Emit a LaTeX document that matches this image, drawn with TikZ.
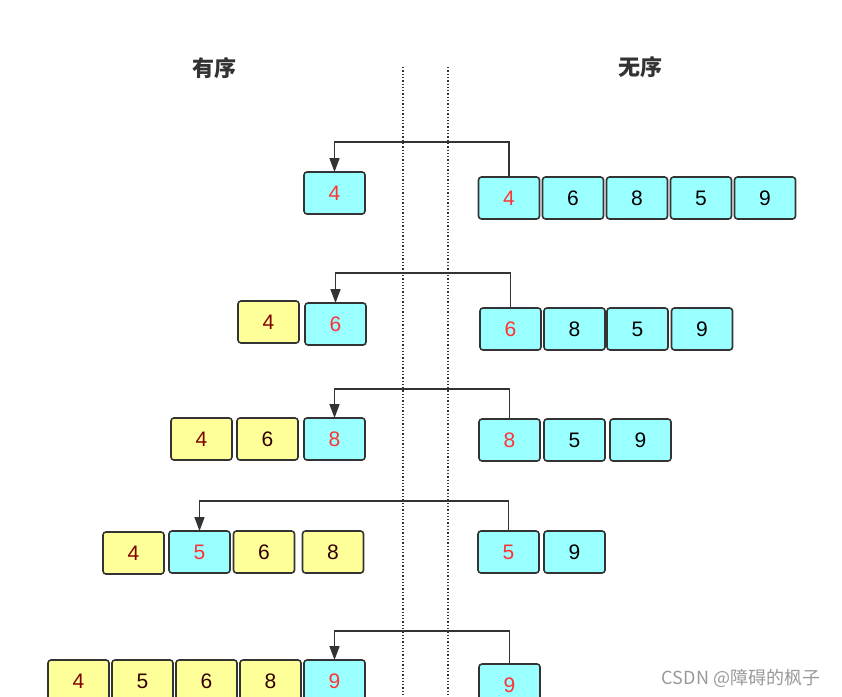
\documentclass[tikz,border=0pt]{standalone}
\usepackage{fontspec}
\setmainfont{Liberation Sans}
\newfontfamily\cjk{Noto Sans CJK SC}
\usetikzlibrary{positioning, arrows.meta}
\definecolor{cyanbox}{HTML}{99FFFF}
\definecolor{yellowbox}{HTML}{FFFF99}
\definecolor{edgegray}{HTML}{333333}
\definecolor{newred}{HTML}{FF3333}
\definecolor{oldred}{HTML}{800000}
\definecolor{olddark}{HTML}{330000}
\tikzset{%
  x=1pt, y=-1pt,
  node distance=3pt,
  cell/.style={            % one array slot
    draw=edgegray,
    line width=1.6pt,
    rounded corners=3pt,
    minimum width=61pt,
    minimum height=42pt,
    inner sep=0pt,
    outer sep=0pt,
    font=\fontsize{21}{24}\selectfont},
  done/.style={cell, fill=yellowbox, text=olddark},
  first/.style={done, text=oldred},
  now/.style={cell, fill=cyanbox, text=newred},
  rest/.style={cell, fill=cyanbox, text=black},
  move/.style={            % element moved across
    draw=edgegray,
    line width=1.5pt,
    -{Triangle[length=14pt,width=10pt]}},
  title/.style={font=\cjk\bfseries\fontsize{22}{26}\selectfont, text=edgegray}
}
\begin{document}
\begin{tikzpicture}
  \useasboundingbox (0,0) rectangle (842,696);

  \node[title] (ordered) at (214,68) {有序};
  \node[title] (unordered) at (640,67) {无序};

  \draw[dotted, line width=1.3pt, edgegray] (403,67) -- (403,696);
  \draw[dotted, line width=1.3pt, edgegray] (448,67) -- (448,696);

  % round 1
  \node[now] (s1a) at (334.5,193) {4};
  \node[now] (u1a) at (509,198) {4};
  \node[rest, right=of u1a] (u1b) {6};
  \node[rest, right=of u1b] (u1c) {8};
  \node[rest, right=of u1c] (u1d) {5};
  \node[rest, right=of u1d] (u1e) {9};
  \draw[move] (u1a.north) -- ++(0,-35) -| (s1a.north);

  % round 2
  \node[first] (s2a) at (268.5,322) {4};
  \node[now] (s2b) at (335.5,324) {6};
  \node[now] (u2a) at (510.5,329) {6};
  \node[rest, right=of u2a] (u2b) {8};
  \node[rest, right=2pt of u2b] (u2c) {5};
  \node[rest, right=3.5pt of u2c] (u2d) {9};
  \draw[move] (u2a.north) -- ++(0,-35) -| (s2b.north);

  % round 3
  \node[first] (s3a) at (201.5,439) {4};
  \node[done, right=5pt of s3a] (s3b) {6};
  \node[now, right=6pt of s3b] (s3c) {8};
  \node[now] (u3a) at (509.5,440) {8};
  \node[rest, right=4pt of u3a] (u3b) {5};
  \node[rest, right=5pt of u3b] (u3c) {9};
  \draw[move] (u3a.north) -- ++(0,-30) -| (s3c.north);

  % round 4
  \node[first] (s4a) at (133.5,553) {4};
  \node[now] (s4b) at (199.5,552) {5};
  \node[done, right=3.5pt of s4b] (s4c) {6};
  \node[done, right=8pt of s4c] (s4d) {8};
  \node[now] (u4a) at (508.5,552) {5};
  \node[rest, right=5pt of u4a] (u4b) {9};
  \draw[move] (u4a.north) -- ++(0,-30) -| (s4b.north);

  % round 5
  \node[first] (s5a) at (78.5,681) {4};
  \node[done, right=of s5a] (s5b) {5};
  \node[done, right=of s5b] (s5c) {6};
  \node[done, right=of s5c] (s5d) {8};
  \node[now, right=of s5d] (s5e) {9};
  \node[now] (u5a) at (509.5,685) {9};
  \draw[move] (u5a.north) -- ++(0,-33) -| (s5e.north);

  \node[text=black!40, font=\cjk\fontsize{18}{20}\selectfont] (mark) at (741,678) {CSDN @障碍的枫子};
\end{tikzpicture}
\end{document}
